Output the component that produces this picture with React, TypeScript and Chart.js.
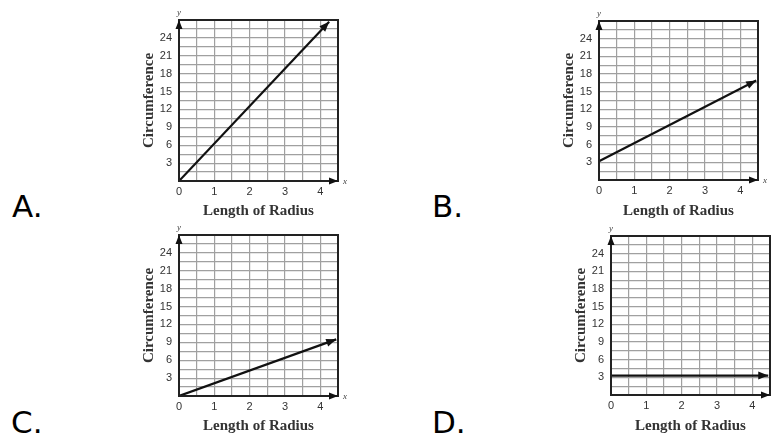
import React, { useEffect, useRef } from "react";
import { Chart, registerables } from "chart.js";

Chart.register(...registerables);

// ---------- data ----------
const panelLetters = ["A.", "B.", "C.", "D."];
const xTickLabels = [0, 1, 2, 3, 4];
const yTickLabels = [3, 6, 9, 12, 15, 18, 21, 24];
const xMax = 4.5;
const yMax = 27;
const xTitle = "Length of Radius";
const yTitle = "Circumference";

const radiusA = [0, 4.25];
const circA = [0, 26.7];
const radiusB = [0, 4.45];
const circB = [3.2, 16.9];
const radiusC = [0, 4.45];
const circC = [0, 9.5];
const radiusD = [0, 4.45];
const circD = [3.3, 3.3];

type Box = {
  left: number;
  top: number;
  width: number;
  height: number;
  plotLeft: number;
  plotTop: number;
  plotRight: number;
  plotBottom: number;
};

function tri(ctx: CanvasRenderingContext2D, x: number, y: number, ang: number, len: number, half: number) {
  ctx.save();
  ctx.translate(x, y);
  ctx.rotate(ang);
  ctx.beginPath();
  ctx.moveTo(0, 0);
  ctx.lineTo(-len, -half);
  ctx.lineTo(-len, half);
  ctx.closePath();
  ctx.fill();
  ctx.restore();
}

const deco = {
  id: "deco",
  afterDraw(chart: any) {
    const { ctx } = chart;
    const { left, top, right, bottom } = chart.chartArea;
    ctx.save();
    ctx.strokeStyle = "#222";
    ctx.lineWidth = 2;
    ctx.strokeRect(left, top, right - left, bottom - top);
    ctx.fillStyle = "#111";
    tri(ctx, left, top, -Math.PI / 2, 9, 3.5);
    tri(ctx, right, bottom, 0, 9, 3.5);
    const pts = chart.getDatasetMeta(0).data;
    const p1 = pts[pts.length - 2];
    const p2 = pts[pts.length - 1];
    const ang = Math.atan2(p2.y - p1.y, p2.x - p1.x);
    tri(ctx, p2.x, p2.y, ang, 10, 4);
    ctx.fillStyle = "#444";
    ctx.font = "italic 9px 'Liberation Serif'";
    ctx.textAlign = "center";
    ctx.textBaseline = "middle";
    ctx.fillText("y", left, top - 7);
    ctx.fillText("x", right + 7, bottom + 1);
    ctx.restore();
  },
};

function near(a: number, b: number) {
  return Math.abs(a - b) < 1e-6;
}

function Panel({ xs, ys, box }: { xs: number[]; ys: number[]; box: Box }) {
  const ref = useRef<HTMLCanvasElement>(null);
  useEffect(() => {
    if (!ref.current) return;
    const titleCenterY = box.plotBottom + 24;
    const chart = new Chart(ref.current, {
      type: "line",
      data: {
        datasets: [
          {
            data: xs.map((x, i) => ({ x, y: ys[i] })),
            borderColor: "#111",
            borderWidth: 2.2,
            pointRadius: 0,
            fill: false,
            tension: 0,
          },
        ],
      },
      options: {
        animation: false,
        responsive: false,
        layout: { padding: { left: 0, top: box.plotTop, right: box.width - box.plotRight, bottom: 0 } },
        plugins: { legend: { display: false }, tooltip: { enabled: false } },
        scales: {
          x: {
            type: "linear",
            min: 0,
            max: xMax,
            afterFit: (s: any) => {
              s.height = box.height - box.plotBottom;
            },
            ticks: {
              stepSize: 0.5,
              autoSkip: false,
              maxRotation: 0,
              padding: 4,
              color: "#333",
              font: { family: "Liberation Sans", size: 11 },
              callback: (v: any) => (xTickLabels.some((t) => near(t, Number(v))) ? String(Math.round(Number(v))) : ""),
            },
            grid: { color: "#a0a0a0", lineWidth: 1.2, drawTicks: false },
            border: { display: false },
            title: {
              display: true,
              text: xTitle,
              color: "#333",
              font: { family: "Liberation Serif", size: 15, weight: "bold" },
              padding: { top: box.height - 9 - titleCenterY, bottom: 0 },
            },
          },
          y: {
            type: "linear",
            min: 0,
            max: yMax,
            afterFit: (s: any) => {
              s.width = box.plotLeft;
            },
            ticks: {
              stepSize: 1.5,
              autoSkip: false,
              padding: 7,
              color: "#333",
              font: { family: "Liberation Sans", size: 11 },
              callback: (v: any) => (yTickLabels.some((t) => near(t, Number(v))) ? String(Math.round(Number(v))) : ""),
            },
            grid: { color: "#a0a0a0", lineWidth: 1.2, drawTicks: false },
            border: { display: false },
            title: {
              display: true,
              text: yTitle,
              color: "#333",
              font: { family: "Liberation Serif", size: 15, weight: "bold" },
              padding: { top: box.plotLeft - 30 - 9, bottom: 0 },
            },
          },
        },
      } as any,
      plugins: [deco],
    });
    return () => chart.destroy();
  }, []);
  return (
    <canvas
      ref={ref}
      width={box.width}
      height={box.height}
      style={{ position: "absolute", left: box.left, top: box.top, width: box.width, height: box.height }}
    />
  );
}

const letterStyle: React.CSSProperties = {
  position: "absolute",
  fontFamily: "'DejaVu Sans', Verdana, sans-serif",
  fontSize: 31,
  lineHeight: "31px",
  color: "#000",
};

export default function App() {
  const boxes: Box[] = [
    { left: 120, top: 0, width: 240, height: 220, plotLeft: 59, plotTop: 20, plotRight: 218, plotBottom: 181 },
    { left: 540, top: 0, width: 234, height: 220, plotLeft: 59, plotTop: 21, plotRight: 218, plotBottom: 180 },
    { left: 120, top: 215, width: 240, height: 220, plotLeft: 59, plotTop: 20, plotRight: 218, plotBottom: 181 },
    { left: 552, top: 215, width: 222, height: 220, plotLeft: 59, plotTop: 21, plotRight: 218, plotBottom: 180 },
  ];
  const series = [
    [radiusA, circA],
    [radiusB, circB],
    [radiusC, circC],
    [radiusD, circD],
  ];
  const letterPos = [
    { left: 12, top: 191 },
    { left: 432, top: 191 },
    { left: 11, top: 407 },
    { left: 432, top: 407 },
  ];
  return (
    <div style={{ position: "absolute", left: 0, top: 0, width: 774, height: 435, background: "#fff", overflow: "hidden" }}>
      {boxes.map((b, i) => (
        <Panel key={i} xs={series[i][0]} ys={series[i][1]} box={b} />
      ))}
      {panelLetters.map((l, i) => (
        <div key={l} style={{ ...letterStyle, left: letterPos[i].left, top: letterPos[i].top }}>
          {l}
        </div>
      ))}
    </div>
  );
}
